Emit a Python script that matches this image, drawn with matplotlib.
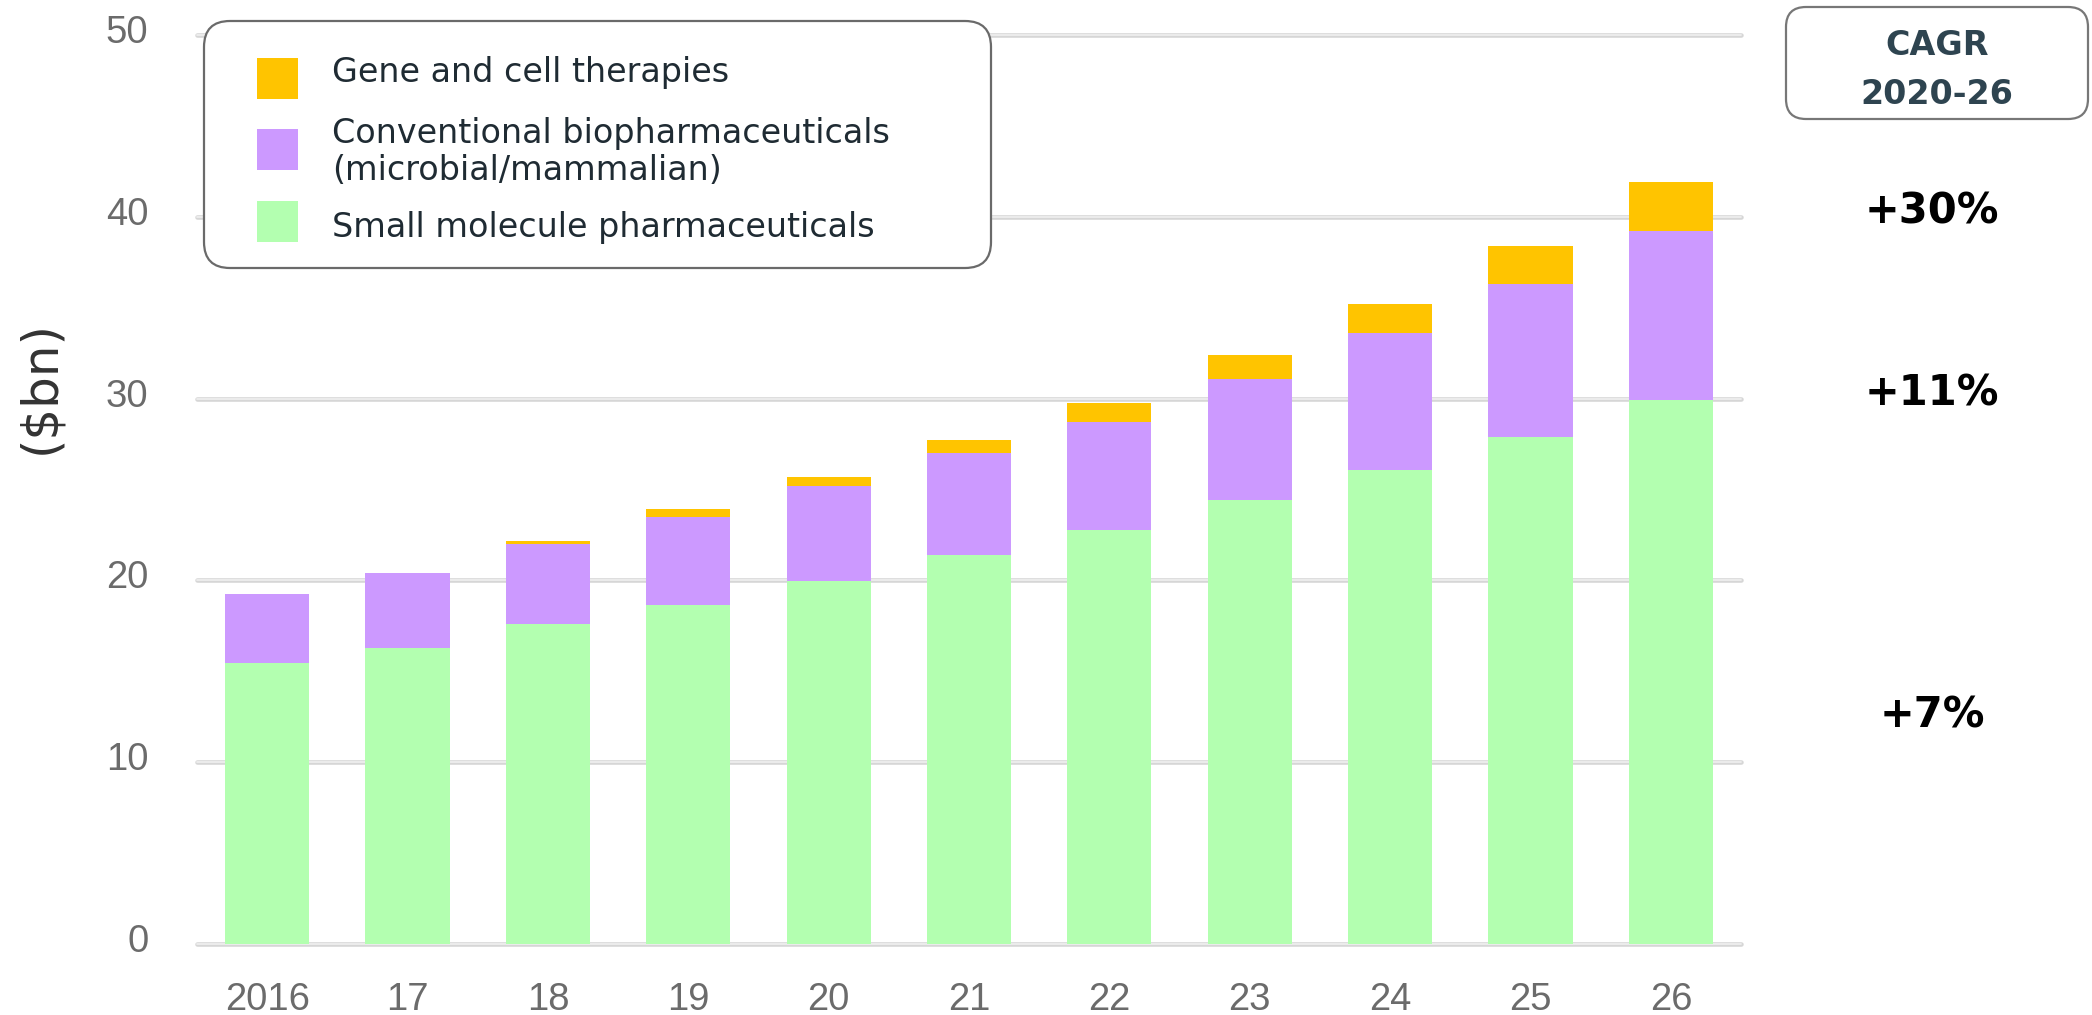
import numpy as np
import matplotlib
matplotlib.use("Agg")
import matplotlib.pyplot as plt
from matplotlib.patches import FancyBboxPatch, Rectangle
from matplotlib.transforms import IdentityTransform, ScaledTranslation

# data ($bn)
years = ['2016', '17', '18', '19', '20', '21', '22', '23', '24', '25', '26']
small_molecule = [15.45, 16.3, 17.6, 18.65, 19.95, 21.4, 22.75, 24.4, 26.1, 27.9, 29.9]
conventional = [3.8, 4.1, 4.4, 4.85, 5.25, 5.6, 5.95, 6.7, 7.5, 8.4, 9.3]
gene_cell = [0.0, 0.0, 0.18, 0.4, 0.5, 0.7, 1.05, 1.3, 1.6, 2.1, 2.7]
yticks = [0, 10, 20, 30, 40, 50]
legend_labels = ['Gene and cell therapies',
                 'Conventional biopharmaceuticals\n(microbial/mammalian)',
                 'Small molecule pharmaceuticals']
cagr_labels = ['+30%', '+11%', '+7%']

GREEN = '#b3ffb0'
PURPLE = '#cc99ff'
YELLOW = '#ffc400'

W, H = 2092, 1015
fig = plt.figure(figsize=(W / 100, H / 100), dpi=100)
ax = fig.add_axes([197 / W, 1 - 944 / H, (1741 - 197) / W, (944 - 35) / H])

ident = IdentityTransform()
def px(x, y):
    # pixel coords from the top-left corner -> display coords
    return x, H - y

x = np.arange(len(years))
small = np.array(small_molecule)
conv = np.array(conventional)
gene = np.array(gene_cell)

# gridlines (light double line look)
for t in yticks:
    ax.plot([-0.5, 10.5], [t, t], color='#d6d6d6', lw=3.3, solid_capstyle='round',
            zorder=0, clip_on=False)
    ax.plot([-0.5, 10.5], [t, t], color='#eeeeee', lw=1.3, solid_capstyle='round',
            zorder=0, clip_on=False)

ax.bar(x, small, width=0.6, color=GREEN, zorder=2)
ax.bar(x, conv, width=0.6, bottom=small, color=PURPLE, zorder=2)
ax.bar(x, gene, width=0.6, bottom=small + conv, color=YELLOW, zorder=2)

ax.set_xlim(-0.5, 10.5)
ax.set_ylim(0, 50)
for s in ax.spines.values():
    s.set_visible(False)
ax.set_xticks(x, years)
ax.set_yticks(yticks)
ax.tick_params(axis='both', length=0, labelsize=27.5, labelcolor='#6b6b6b')
ax.tick_params(axis='x', pad=27)
ax.tick_params(axis='y', pad=35)
for lab in ax.get_xticklabels() + ax.get_yticklabels():
    lab.set_fontfamily('Liberation Sans')
for lab in ax.get_yticklabels():
    lab.set_transform(lab.get_transform() + ScaledTranslation(0, 0.06, fig.dpi_scale_trans))

# y label
fig.text(40 / W, 1 - 387 / H, '($bn)', rotation=90, ha='center', va='center',
         fontsize=36, color='#333333')

# legend box
fig.patches.append(FancyBboxPatch(px(204, 268), 991 - 204, 268 - 21,
                                  boxstyle='round,pad=0,rounding_size=26',
                                  transform=ident, facecolor='white',
                                  edgecolor='#6a6a6a', lw=1.6, zorder=5))
sq_tops = [58, 129, 201]
colors = [YELLOW, PURPLE, GREEN]
baselines = [[82], [143, 180], [237]]
for lab, col, top, bls in zip(legend_labels, colors, sq_tops, baselines):
    fig.patches.append(Rectangle(px(257, top + 41), 41, 41, transform=ident,
                                 facecolor=col, edgecolor='none', zorder=6))
    for line, bl in zip(lab.split('\n'), bls):
        fig.text(*px(332, bl), line, transform=ident, ha='left', va='baseline',
                 fontsize=24, color='#1f2b33', zorder=7)

# CAGR box
fig.patches.append(FancyBboxPatch(px(1786, 119), 2088 - 1786, 119 - 7,
                                  boxstyle='round,pad=0,rounding_size=20',
                                  transform=ident, facecolor='white',
                                  edgecolor='#777777', lw=1.6, zorder=5))
fig.text(*px(1937, 55), 'CAGR', transform=ident, ha='center', va='baseline',
         fontsize=24, fontweight='bold', color='#2e4450', zorder=7)
fig.text(*px(1937, 104), '2020-26', transform=ident, ha='center', va='baseline',
         fontsize=24, fontweight='bold', color='#2e4450', zorder=7)

for lab, yy in zip(cagr_labels, [223, 405, 727]):
    fig.text(*px(1932, yy), lab, transform=ident, ha='center', va='baseline',
             fontsize=30, fontweight='bold', color='black')

fig.savefig('out.png', dpi=100, facecolor='white')
